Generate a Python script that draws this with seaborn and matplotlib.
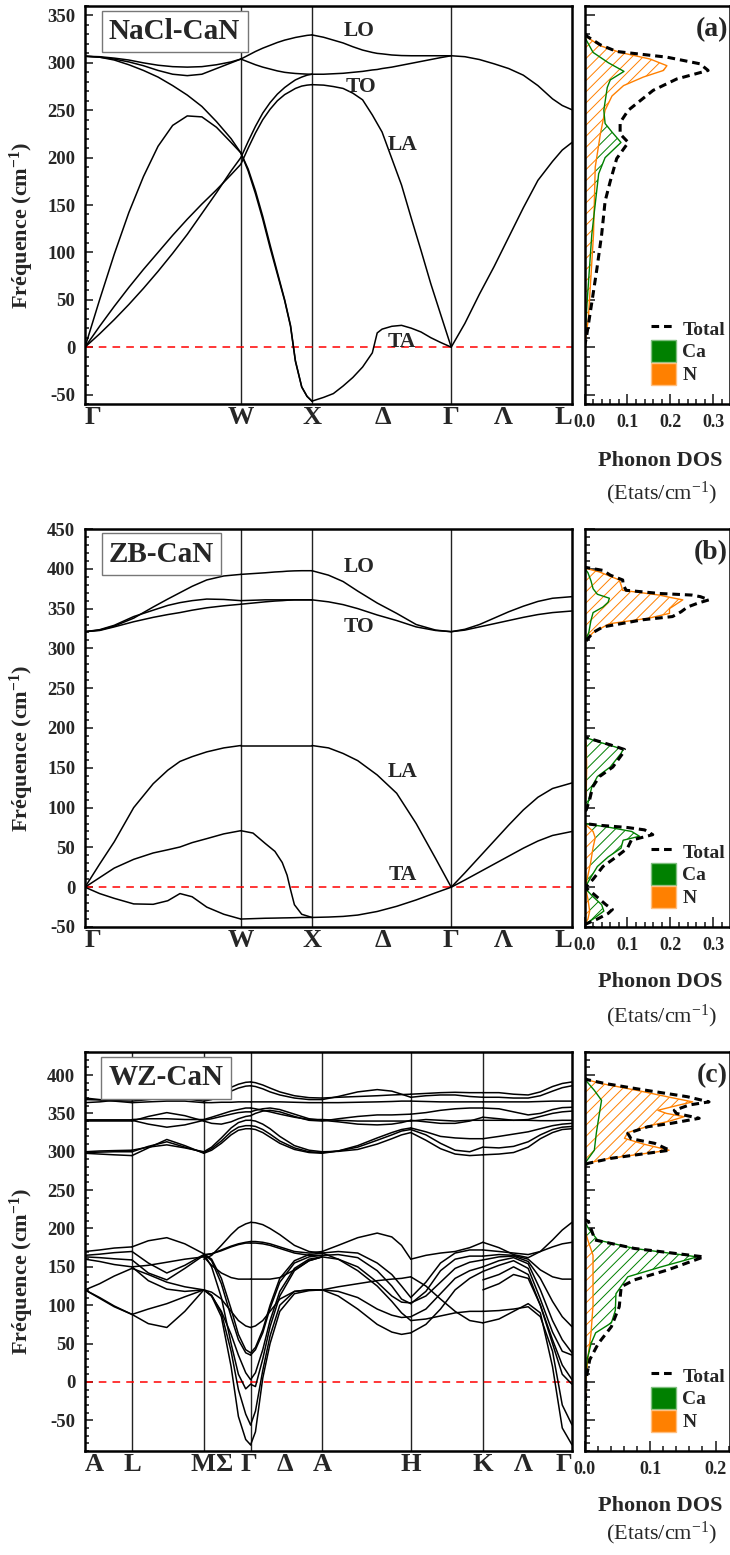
import matplotlib.pyplot as plt
import matplotlib.patches as mpatches
import matplotlib.ticker as mticker
from matplotlib.lines import Line2D
import pandas as pd
import seaborn as sns

CA_COLOR = "#008000"
N_COLOR = "#ff8000"

# ---------------- (a) NaCl-CaN ----------------
NACL_TICK_LABELS = ["Γ", "W", "X", "Δ", "Γ", "Λ", "L"]
NACL_TICK_POS = [0.0, 0.320, 0.466, 0.612, 0.752, 0.858, 1.0]
NACL_VLINES = [0.320, 0.466, 0.752]

NACL_GW_K = [0, 0.03, 0.06, 0.09, 0.12, 0.15, 0.18, 0.21, 0.24, 0.27, 0.30, 0.32]
NACL_GW = [
    [307, 306.5, 305, 303, 300, 297.5, 296, 295.5, 296, 298, 301, 304],
    [307, 306, 304, 301, 297, 292, 288, 286.5, 288, 294, 300, 304],
    [307, 306, 303, 298, 292, 285, 276, 266, 254, 238, 220, 205],
    [0, 50, 98, 142, 180, 212, 234, 244, 243, 232, 216, 205],
    [0, 14, 29, 45, 62, 80, 99, 119, 141, 163, 186, 200],
    [0, 22, 43, 63, 82, 100, 118, 135, 151, 166, 182, 193],
]
NACL_WX_K = [0.32, 0.335, 0.35, 0.365, 0.38, 0.395, 0.41, 0.422, 0.432, 0.445, 0.456, 0.466]
NACL_WX = [
    [304, 308, 312, 315.5, 318.5, 321.5, 324, 325.5, 326.8, 328, 329, 329.5],
    [304, 301, 298, 295.5, 293.5, 291.5, 290, 289.3, 288.8, 288.4, 288.1, 288],
    [200, 217, 233, 247, 258, 267, 274, 278.5, 282, 285, 287, 288],
    [193, 210, 226, 240, 251, 260, 266.5, 270, 273, 275.5, 276.5, 277],
    [205, 186, 162, 135, 105, 77, 49, 22, -15, -42, -52, -57],
    [205, 188, 165, 138, 108, 79, 50, 23, -14, -42, -52, -57],
]
NACL_XG_K = [0.466, 0.49, 0.51, 0.53, 0.55, 0.57, 0.59, 0.60, 0.61, 0.63, 0.65, 0.67, 0.69, 0.71, 0.73, 0.752]
NACL_XG = [
    [329.5, 327, 324, 321, 317, 313.5, 311, 310, 309.5, 308.3, 307.7, 307.5, 307.5, 307.5, 307.5, 307.5],
    [288, 288, 288.5, 289, 290, 291, 292.5, 293, 294, 295.5, 297.5, 299.5, 301.5, 303.5, 305.5, 307.5],
    [277, 276.5, 275, 273, 268, 261, 245, 236, 227, 199, 171, 136, 102, 67, 35, 0],
    [-57, -53, -49, -41, -32, -21, -6, 15, 19, 22, 23, 20, 16, 10, 5, 0],
]
NACL_GL_K = [0.752, 0.78, 0.81, 0.84, 0.87, 0.90, 0.93, 0.96, 0.98, 1.0]
NACL_GL = [
    [307.5, 306.5, 303.5, 299, 294, 287, 276, 262, 255, 250.5],
    [0, 25, 56, 85, 116, 147, 176, 196, 208, 216],
]
NACL_MODES = [("LO", 0.563, 334), ("TO", 0.566, 274), ("LA", 0.653, 213), ("TA", 0.651, 5)]

NACL_TOTAL = [(0, 0), (12, 0.005), (47, 0.017), (83, 0.029), (119, 0.040), (154, 0.048),
              (175, 0.060), (199, 0.075), (216, 0.102), (225, 0.083), (237, 0.083), (250, 0.102),
              (271, 0.160), (283, 0.215), (292, 0.288), (299, 0.269), (306, 0.192), (312, 0.075),
              (319, 0.037), (328, 0.006), (332, 0)]
NACL_N = [(0, 0), (30, 0.009), (119, 0.021), (190, 0.025), (225, 0.037), (250, 0.048),
          (265, 0.064), (276, 0.091), (285, 0.137), (292, 0.184), (297, 0.192), (304, 0.153),
          (311, 0.083), (318, 0.037), (327, 0.006), (330, 0)]
NACL_CA = [(0, 0), (47, 0.006), (119, 0.017), (183, 0.033), (200, 0.048), (216, 0.085),
           (227, 0.064), (236, 0.048), (250, 0.045), (274, 0.053), (282, 0.060), (291, 0.092),
           (300, 0.056), (311, 0.020), (325, 0.003), (330, 0)]

# ---------------- (b) ZB-CaN ----------------
ZB_GW_K = [0, 0.03, 0.06, 0.10, 0.14, 0.17, 0.195, 0.22, 0.25, 0.285, 0.32]
ZB_GW = [
    [321, 323, 328, 338, 352, 362, 370, 378, 386, 391, 393],
    [321, 323.5, 329, 340, 348, 354, 357.5, 360, 362, 361.5, 360],
    [321, 322.5, 327, 333.5, 339, 342.5, 345, 348, 351, 353.5, 355.5],
    [0, 29, 57, 100, 130, 147, 158, 164, 170, 175, 178],
    [0, 12, 24, 35, 43, 47, 50.5, 56, 61, 67, 71],
    [0, -8, -14, -21, -21.5, -17, -8, -12, -25, -34, -40],
]
ZB_WX_K = [0.32, 0.345, 0.37, 0.39, 0.405, 0.415, 0.422, 0.43, 0.445, 0.466]
ZB_WX = [
    [393, 394, 395, 396, 396.5, 397, 397.2, 397.4, 397.6, 397.6],
    [360, 360.5, 361, 361, 361, 361, 361, 361, 361, 361],
    [355.5, 357, 358.5, 359.5, 360, 360.5, 360.7, 361, 361, 361],
    [178, 178, 178, 178, 178, 178, 178, 178, 178, 178],
    [71, 68, 55, 45, 31, 15, -3, -22, -34, -38],
    [-40, -39.5, -39, -38.8, -38.6, -38.5, -38.4, -38.3, -38, -38],
]
ZB_XG_K = [0.466, 0.50, 0.53, 0.56, 0.60, 0.64, 0.68, 0.72, 0.752]
ZB_XG = [
    [397.6, 392, 384, 372, 357, 344, 330, 323, 321],
    [361, 358.5, 355, 350, 342, 335, 327, 322.5, 321],
    [178, 175, 168, 159, 141, 118, 80, 36, 0],
    [-38, -37.5, -36.7, -35, -30.5, -24, -16, -7, 0],
]
ZB_GL_K = [0.752, 0.78, 0.81, 0.84, 0.87, 0.90, 0.93, 0.96, 1.0]
ZB_GL = [
    [321, 324, 330, 338, 346, 353, 359, 363, 365],
    [321, 323, 327, 331, 335, 339, 342.5, 345, 347],
    [0, 18, 38, 58, 78, 97, 113, 124, 131],
    [0, 9, 19, 29, 39, 49, 58, 65, 70],
]
ZB_MODES = [("LO", 0.563, 402), ("TO", 0.563, 327), ("LA", 0.653, 145), ("TA", 0.653, 15)]

ZB_TOTAL = [(-47, 0), (-40, 0.03), (-33, 0.055), (-28, 0.065), (-22, 0.05), (-15, 0.035),
            (-8, 0.02), (-2, 0.006), (0, 0.003), (10, 0.02), (26, 0.043), (38, 0.074),
            (49, 0.1), (59, 0.109), (66, 0.159), (72, 0.14), (75, 0.1), (78, 0.03), (80, 0),
            (95, 0), (97, 0.004), (110, 0.012), (126, 0.019), (139, 0.035), (151, 0.066),
            (168, 0.089), (173, 0.093), (176.5, 0.074), (183, 0.035), (188, 0.004), (190, 0),
            (305, 0), (311, 0.006), (320, 0.02), (327, 0.043), (336, 0.136), (340, 0.205),
            (346, 0.225), (352, 0.24), (357, 0.265), (361, 0.29), (365, 0.27), (367, 0.25),
            (369, 0.175), (373, 0.097), (380, 0.09), (386, 0.089), (392, 0.06), (398, 0.043),
            (402, 0)]
ZB_N = [(-47, 0), (-40, 0.008), (-30, 0.012), (-15, 0.008), (-5, 0.004), (0, 0.002),
        (10, 0.006), (30, 0.014), (50, 0.02), (62, 0.025), (70, 0.02), (76, 0.008), (80, 0),
        (95, 0), (120, 0.004), (150, 0.005), (180, 0.004), (190, 0), (305, 0), (311, 0.004),
        (320, 0.02), (331, 0.058), (338, 0.15), (344, 0.198), (350, 0.198), (356, 0.215),
        (361, 0.229), (364, 0.2), (367, 0.174), (373, 0.089), (380, 0.085), (386, 0.081),
        (396, 0.035), (401, 0)]
ZB_CA = [(-47, 0), (-40, 0.02), (-30, 0.045), (-22, 0.04), (-12, 0.02), (-3, 0.004), (0, 0.002),
         (10, 0.012), (26, 0.03), (38, 0.055), (49, 0.085), (59, 0.09), (64, 0.128), (70, 0.11),
         (75, 0.06), (79, 0.01), (80, 0), (95, 0), (97, 0.004), (110, 0.01), (126, 0.017),
         (139, 0.03), (151, 0.06), (168, 0.085), (173, 0.09), (176.5, 0.07), (183, 0.03),
         (188, 0.003), (190, 0), (305, 0), (312, 0.004), (320, 0.01), (335, 0.015), (345, 0.02),
         (352, 0.043), (358, 0.055), (363, 0.058), (368, 0.03), (375, 0.02), (385, 0.015),
         (395, 0.008), (401, 0)]

# ---------------- (c) WZ-CaN ----------------
WZ_TICK_LABELS = ["A", "L", "M", "Σ", "Γ", "Δ", "A", "H", "K", "Λ", "Γ"]
WZ_TICK_POS = [0.0, 0.0965, 0.243, 0.285, 0.337, 0.411, 0.487, 0.669, 0.817, 0.901, 1.0]
WZ_VLINES = [0.0965, 0.244, 0.340, 0.487, 0.669, 0.817]

WZ_AL_K = [0, 0.03, 0.06, 0.0965]
WZ_AL = [
    [298, 297, 296, 295], [299, 299.5, 300, 300], [300, 301, 301.5, 302],
    [340, 340, 340, 340], [341, 341, 341, 341], [342, 342, 342, 342],
    [364, 365, 367, 370], [368, 367.5, 366.5, 366], [370, 368, 366, 364],
    [170, 172, 174.5, 176], [165, 166.5, 168.5, 170], [163, 162, 160.5, 159],
    [160, 157, 153, 150], [120, 128, 138, 148], [120, 110, 99, 88], [120, 109, 98, 88],
]
WZ_LM_K = [0.0965, 0.13, 0.168, 0.205, 0.244]
WZ_LM = [
    [295, 305, 316, 308, 298], [300, 307, 313, 306, 299], [302, 306, 309, 305, 300],
    [340, 346, 351, 347, 340], [341, 336, 332, 335, 341], [342, 343, 343, 342, 342],
    [364, 365, 366, 366, 364], [366, 368, 370, 369, 366], [370, 371, 371.5, 371, 370],
    [176, 184, 188, 180, 167], [170, 155, 142, 152, 166], [159, 142, 133, 148, 165],
    [150, 132, 121, 118, 120], [148, 140, 130, 124, 120], [88, 95, 102, 111, 120],
    [88, 76, 71, 92, 120], [150, 152, 156, 160, 163],
]
WZ_MG_K = [0.244, 0.26, 0.28, 0.30, 0.315, 0.33, 0.340]
WZ_MG = [
    [298, 302, 311, 322, 328, 330, 330], [299, 304, 314, 326, 332, 334, 334],
    [300, 306, 318, 331, 338, 341, 341], [340, 337, 336, 339, 343, 346, 347],
    [341, 343, 346, 349, 351, 352, 352], [342, 345, 349, 353, 355, 357, 357],
    [364, 364, 364.5, 364.5, 365, 365, 365], [366, 368, 373, 379, 383, 385.5, 386],
    [370, 372, 377, 384, 388, 390.5, 391],
    [160, 165, 178, 192, 201, 206, 208], [165, 167, 172, 177, 180, 182, 183],
    [166, 167, 171, 176, 179, 181, 181], [163, 152, 142, 136, 134, 134, 134],
    [120, 117, 108, 92, 80, 73, 71], [167, 160, 135, 95, 62, 42, 38],
    [167, 158, 128, 85, 55, 38, 35], [120, 112, 92, 62, 35, 12, 3],
    [167, 150, 110, 50, 10, -9, -3], [120, 113, 90, 40, -10, -42, -56],
    [120, 112, 85, 20, -45, -75, -82],
]
WZ_GA_K = [0.340, 0.35, 0.365, 0.38, 0.40, 0.43, 0.46, 0.487]
WZ_GA = [
    [330, 329, 325, 319, 311, 303, 299, 298], [334, 333, 329, 323, 314, 305, 300, 299],
    [341, 340, 336, 330, 320, 308, 302, 300], [347, 350, 353, 354, 352, 346, 341, 340],
    [352, 354, 356, 357, 355, 349, 343, 341], [357, 356, 354, 352, 349, 345, 342, 342],
    [365, 365, 365, 365, 365, 364.5, 364, 364], [386, 385, 382, 378, 374, 370, 368, 368],
    [391, 390, 387, 383, 378, 373, 370.5, 370],
    [208, 207.5, 205, 200, 192, 178, 170, 168], [183, 183, 182, 180, 176, 170, 168, 170],
    [181, 181, 180, 178, 174, 168, 165, 165], [134, 134, 134, 134, 136, 146, 158, 163],
    [71, 73, 80, 92, 108, 118, 120, 120], [38, 45, 68, 100, 135, 158, 166, 168],
    [35, 42, 64, 96, 130, 155, 163, 165], [3, 12, 42, 80, 118, 148, 160, 163],
    [-3, -6, 30, 72, 112, 145, 158, 163], [-56, -38, 15, 60, 100, 118, 120, 120],
    [-82, -65, 5, 50, 92, 115, 119, 120],
]
WZ_AH_K = [0.487, 0.52, 0.56, 0.60, 0.63, 0.65, 0.669]
WZ_AH = [
    [298, 301, 308, 318, 325, 329, 331], [299, 301, 306, 315, 322, 327, 329],
    [300, 300.5, 303, 310, 317, 322, 325], [340, 343, 346, 348, 348, 348.5, 349],
    [341, 339, 336, 335, 336, 338, 341], [342, 341, 340, 340, 340, 340, 340],
    [364, 364, 364.5, 365, 365.5, 366, 366], [368, 372, 378, 381, 379, 375, 371],
    [370, 371, 372, 373, 374, 374.5, 375],
    [170, 178, 188, 194, 189, 178, 160], [168, 170, 168, 155, 140, 125, 110],
    [165, 166, 162, 145, 125, 108, 102], [163, 160, 150, 130, 112, 104, 103],
    [120, 118, 110, 95, 87, 84, 85], [120, 112, 95, 75, 65, 62, 64],
    [168, 160, 145, 125, 105, 90, 80], [120, 124, 128, 132, 134, 135, 137],
]
WZ_HK_K = [0.669, 0.70, 0.73, 0.76, 0.79, 0.817]
WZ_HK = [
    [331, 326, 320, 318, 317, 317], [329, 322, 311, 302, 300, 306],
    [325, 315, 304, 297, 295, 296], [340, 342, 341, 340, 341, 341],
    [341, 339, 337, 337, 340, 345], [349, 351, 354, 356, 357, 357],
    [366, 365.5, 365, 365, 365, 365], [371, 373, 374, 374, 372, 371],
    [375, 376, 377, 377.5, 377, 377],
    [160, 165, 168, 170, 175, 182], [110, 130, 155, 168, 172, 172],
    [102, 118, 145, 160, 164, 164], [103, 112, 130, 148, 156, 159],
    [85, 95, 115, 135, 145, 150], [64, 75, 95, 120, 135, 144],
    [80, 82, 86, 90, 92, 92], [137, 125, 108, 92, 80, 77],
]
WZ_KG_K = [0.817, 0.85, 0.88, 0.91, 0.935, 0.96, 0.98, 1.0]
WZ_KG = [
    [317, 320, 323, 326, 330, 334, 336, 337], [306, 305, 307, 313, 322, 329, 332, 333],
    [296, 297, 299, 306, 317, 325, 329, 330], [341, 341, 341, 341, 340.5, 340.5, 341, 341],
    [345, 343, 341, 342, 346, 350, 352, 353], [357, 356, 352, 348, 350, 355, 357.5, 358],
    [365, 365, 365, 365, 365.5, 366, 366, 366], [371, 371, 370, 370, 373, 379, 383.5, 386],
    [377, 377, 375, 374, 378, 385, 389, 391],
    [182, 175, 166, 162, 170, 185, 198, 208], [172, 170, 168, 166, 170, 176, 180, 182],
    [164, 166, 165, 160, 146, 137, 134, 134], [159, 163, 164, 157, 135, 105, 85, 72],
    [150, 158, 162, 154, 120, 80, 55, 38], [144, 152, 158, 148, 108, 65, 40, 35],
    [133, 140, 150, 140, 100, 55, 22, 3], [92, 93, 95, 98, 85, 40, -30, -56],
    [77, 82, 92, 102, 90, 20, -60, -82], [120, 128, 140, 135, 100, 50, 10, -3],
]

WZ_TOTAL = [(-90, 0), (0, 0.002), (11, 0.004), (29, 0.008), (50, 0.021), (72, 0.041),
            (98, 0.053), (124, 0.056), (133, 0.076), (146, 0.127), (163, 0.182), (174, 0.076),
            (185, 0.016), (209, 0.006), (212, 0), (283, 0), (285, 0.006), (291.5, 0.041),
            (302, 0.13), (311, 0.107), (317, 0.071), (324, 0.066), (332.6, 0.0965), (337, 0.132),
            (343.6, 0.175), (350, 0.14), (354, 0.137), (361, 0.16), (365, 0.19), (371.7, 0.157),
            (380.5, 0.091), (389, 0.031), (394, 0.004), (396, 0)]
WZ_N = [(-90, 0), (0, 0.002), (30, 0.005), (64, 0.01), (100, 0.013), (165, 0.013), (185, 0.005),
        (200, 0), (283, 0), (285, 0.004), (291, 0.035), (302, 0.129), (310, 0.09), (317.5, 0.061),
        (325, 0.066), (334, 0.1), (340, 0.13), (345.7, 0.152), (350, 0.125), (354, 0.112),
        (360, 0.14), (365, 0.165), (371, 0.13), (380, 0.08), (389, 0.025), (394, 0.003), (396, 0)]
WZ_CA = [(-90, 0), (0, 0.001), (29, 0.004), (50, 0.01), (64, 0.017), (77, 0.041), (93, 0.047),
         (115, 0.048), (137, 0.066), (150, 0.117), (163, 0.172), (174, 0.076), (185, 0.02),
         (200, 0.006), (210, 0), (283, 0), (289, 0.004), (302, 0.015), (324, 0.018), (346, 0.022),
         (367, 0.026), (380, 0.015), (390, 0.005), (395, 0)]

TOTAL_LS = (0, (2.5, 1.6))


def band_frame(segments):
    recs = []
    for s, (ks, rows) in enumerate(segments):
        for b, vals in enumerate(rows):
            for k, v in zip(ks, vals):
                recs.append({"k": k, "freq": v, "branch": f"{s}-{b}"})
    return pd.DataFrame(recs)


def style_spines(ax):
    for sp in ax.spines.values():
        sp.set_visible(True)
        sp.set_linewidth(1.8)
        sp.set_color("black")


def draw_bands(ax, segments, ylim, tick_labels, tick_pos, vlines, name, name_xy, modes):
    for x in vlines:
        ax.axvline(x, color="#222222", lw=1.0, zorder=1)
    ax.axhline(0, color="red", lw=1.1, ls=(0, (5, 4)), zorder=1)
    sns.lineplot(data=band_frame(segments), x="k", y="freq", units="branch",
                 estimator=None, sort=False, color="black", lw=1.1, ax=ax, legend=False)
    ax.set_xlim(0, 1)
    ax.set_ylim(*ylim)
    ax.set_xticks([])
    ax.set_xlabel("")
    ax.set_ylabel("")
    ax.yaxis.set_major_locator(mticker.MultipleLocator(50))
    ax.yaxis.set_minor_locator(mticker.MultipleLocator(10))
    ax.tick_params(axis="y", which="both", direction="in", labelsize=13.5, pad=7, width=1.2)
    ax.tick_params(axis="y", which="major", length=6)
    ax.tick_params(axis="y", which="minor", length=3)
    style_spines(ax)
    for x, lab in zip(tick_pos, tick_labels):
        ha = "left" if x == 0 else ("right" if x == 1 else "center")
        ax.text(x, -0.006, lab, transform=ax.get_xaxis_transform(), ha=ha, va="top",
                fontsize=19, fontweight="bold")
    ax.text(-0.129, 0.45, "Fréquence (cm$^{-1}$)", transform=ax.transAxes, rotation=90,
            ha="center", va="center", fontsize=16, fontweight="bold")
    ax.text(name_xy[0], name_xy[1], name, transform=ax.transAxes, ha="center", va="center",
            fontsize=21, fontweight="bold",
            bbox=dict(boxstyle="square,pad=0.25", fc="white", ec="#777777", lw=1.0))
    for lab, x, y in modes:
        ax.text(x, y, lab, ha="center", va="center", fontsize=15.5, fontweight="bold")


def draw_dos(ax, total, ca, n, ylim, xmax, letter):
    f_ca, d_ca = zip(*ca)
    f_n, d_n = zip(*n)
    f_t, d_t = zip(*total)
    ax.fill_betweenx(f_ca, 0, d_ca, facecolor="white", edgecolor=CA_COLOR, hatch="///",
                     lw=0, zorder=1)
    ax.fill_betweenx(f_n, 0, d_n, facecolor="white", edgecolor=N_COLOR, hatch="///",
                     lw=0, zorder=1.1)
    sns.lineplot(x=list(d_n), y=list(f_n), orient="y", sort=False, estimator=None,
                 color=N_COLOR, lw=1.0, ax=ax)
    sns.lineplot(x=list(d_ca), y=list(f_ca), orient="y", sort=False, estimator=None,
                 color=CA_COLOR, lw=1.0, ax=ax)
    sns.lineplot(x=list(d_t), y=list(f_t), orient="y", sort=False, estimator=None,
                 color="black", lw=2.2, ls=TOTAL_LS, ax=ax)
    ax.set_xlim(0, xmax)
    ax.set_ylim(*ylim)
    ax.set_xlabel("")
    ax.set_ylabel("")
    ax.xaxis.set_major_locator(mticker.MultipleLocator(0.1))
    ax.xaxis.set_minor_locator(mticker.MultipleLocator(0.02))
    ax.xaxis.set_major_formatter(mticker.FormatStrFormatter("%.1f"))
    ax.yaxis.set_major_locator(mticker.MultipleLocator(50))
    ax.yaxis.set_minor_locator(mticker.MultipleLocator(10))
    ax.tick_params(axis="both", which="both", direction="in", width=1.2)
    ax.tick_params(axis="both", which="major", length=7)
    ax.tick_params(axis="both", which="minor", length=3.5)
    ax.tick_params(axis="y", labelleft=False)
    ax.tick_params(axis="x", labelsize=13, pad=7)
    style_spines(ax)
    ax.text(0.985, 0.94, letter, transform=ax.transAxes, ha="right", va="center",
            fontsize=20, fontweight="bold")
    handles = [
        Line2D([], [], color="black", lw=2.2, ls=TOTAL_LS),
        mpatches.Patch(facecolor=CA_COLOR, edgecolor="#7fbf7f"),
        mpatches.Patch(facecolor=N_COLOR, edgecolor="#ffbf80"),
    ]
    ax.legend(handles, ["Total", "Ca", "N"], loc="lower right", bbox_to_anchor=(1.1, 0.0),
              frameon=False, fontsize=14, handlelength=1.25, handleheight=1.35,
              labelspacing=0.05, handletextpad=0.35, borderaxespad=0.7, borderpad=0.3)


sns.set_style("ticks")
plt.rcParams["font.family"] = ["Liberation Serif", "DejaVu Serif"]
plt.rcParams["font.weight"] = "bold"
plt.rcParams["mathtext.default"] = "regular"
plt.rcParams["axes.unicode_minus"] = False
plt.rcParams["hatch.linewidth"] = 0.7

W, H = 730, 1555
fig = plt.figure(figsize=(W / 100, H / 100), dpi=100)


def rect(l, t, r, b):
    return [l / W, 1 - b / H, (r - l) / W, (b - t) / H]


panels = [
    dict(top=6, bottom=404, ylim=(-60, 360),
         segments=[(NACL_GW_K, NACL_GW), (NACL_WX_K, NACL_WX), (NACL_XG_K, NACL_XG), (NACL_GL_K, NACL_GL)],
         ticks=(NACL_TICK_LABELS, NACL_TICK_POS), vlines=NACL_VLINES, name="NaCl-CaN",
         name_xy=(0.184, 0.936), modes=NACL_MODES, dos=(NACL_TOTAL, NACL_CA, NACL_N), xmax=0.339,
         letter="(a)", dos_lab=(461, 493)),
    dict(top=529, bottom=927, ylim=(-50, 450),
         segments=[(ZB_GW_K, ZB_GW), (ZB_WX_K, ZB_WX), (ZB_XG_K, ZB_XG), (ZB_GL_K, ZB_GL)],
         ticks=(NACL_TICK_LABELS, NACL_TICK_POS), vlines=NACL_VLINES, name="ZB-CaN",
         name_xy=(0.157, 0.937), modes=ZB_MODES, dos=(ZB_TOTAL, ZB_CA, ZB_N), xmax=0.339,
         letter="(b)", dos_lab=(982, 1016)),
    dict(top=1052, bottom=1451, ylim=(-90, 430),
         segments=[(WZ_AL_K, WZ_AL), (WZ_LM_K, WZ_LM), (WZ_MG_K, WZ_MG), (WZ_GA_K, WZ_GA),
                   (WZ_AH_K, WZ_AH), (WZ_HK_K, WZ_HK), (WZ_KG_K, WZ_KG)],
         ticks=(WZ_TICK_LABELS, WZ_TICK_POS), vlines=WZ_VLINES, name="WZ-CaN",
         name_xy=(0.166, 0.935), modes=[], dos=(WZ_TOTAL, WZ_CA, WZ_N), xmax=0.222,
         letter="(c)", dos_lab=(1506, 1533)),
]

for p in panels:
    ax_b = fig.add_axes(rect(85, p["top"], 572, p["bottom"]))
    ax_d = fig.add_axes(rect(584.5, p["top"], 730, p["bottom"]))
    draw_bands(ax_b, p["segments"], p["ylim"], p["ticks"][0], p["ticks"][1], p["vlines"],
               p["name"], p["name_xy"], p["modes"])
    draw_dos(ax_d, *p["dos"], p["ylim"], p["xmax"], p["letter"])
    fig.text(660 / W, 1 - p["dos_lab"][0] / H, "Phonon DOS", ha="center", va="center",
             fontsize=16, fontweight="bold")
    fig.text(662 / W, 1 - p["dos_lab"][1] / H, "(Etats/cm$^{-1}$)", ha="center", va="center",
             fontsize=16, fontweight="normal")

fig.savefig("out.png", dpi=100)
